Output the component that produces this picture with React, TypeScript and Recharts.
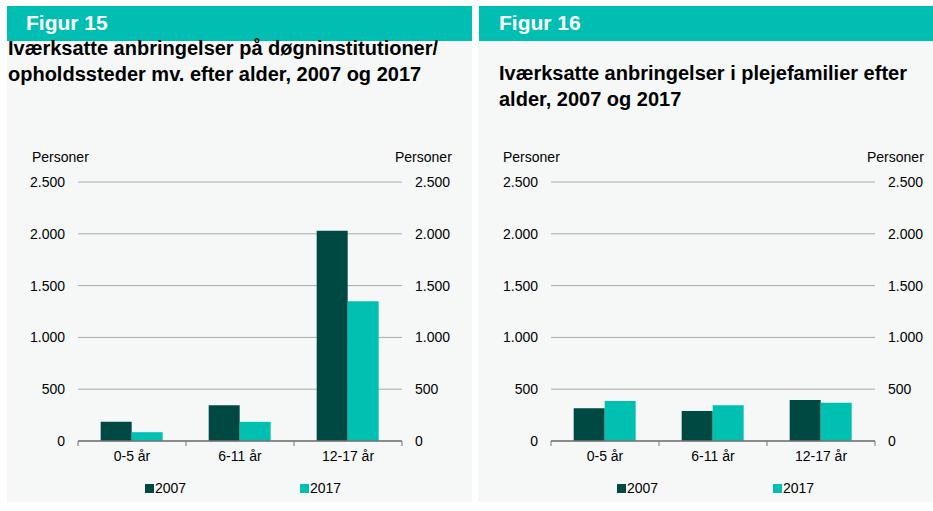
import React from 'react';
import { ComposedChart, Bar, Line, XAxis, YAxis, CartesianGrid } from 'recharts';

const categories = ['0-5 år', '6-11 år', '12-17 år'];
const fig15Values2007 = [185, 345, 2030];
const fig15Values2017 = [85, 185, 1350];
const fig16Values2007 = [315, 290, 395];
const fig16Values2017 = [385, 345, 370];
const seriesNames = ['2007', '2017'];
const yTicks = [0, 500, 1000, 1500, 2000, 2500];

const FONT = '"Liberation Sans", Arial, sans-serif';
const TEAL = '#00BFB2';
const DARK = '#004842';
const LIGHT = '#00C1B1';
const PANEL_BG = '#F6F8F8';
const AXIS = '#757575';
const GRID = '#a8a8a8';
const TICK_MARGIN = 10;

const fmt = (v: number) => String(v).replace(/\B(?=(\d{3})+(?!\d))/g, '.');

function buildData(a: number[], b: number[]) {
  return categories.map((c, i) => ({ cat: c, y2007: a[i], y2017: b[i] }));
}

function CatTick(props: any) {
  const { x, y, payload, index, visibleTicksCount } = props;
  const off = payload && typeof payload.offset === 'number' ? payload.offset : 0;
  const axisY = y - TICK_MARGIN;
  const last = index === (visibleTicksCount ?? 3) - 1;
  return (
    <g>
      <line x1={x - off} x2={x - off} y1={axisY} y2={axisY + 5} stroke={AXIS} strokeWidth={1} />
      {last && <line x1={x + off} x2={x + off} y1={axisY} y2={axisY + 5} stroke={AXIS} strokeWidth={1} />}
      <text x={x} y={y} dy="0.71em" textAnchor="middle" fill="#000" fontSize={14} fontFamily={FONT}>
        {payload.value}
      </text>
    </g>
  );
}

type ChartProps = {
  data: { cat: string; y2007: number; y2017: number }[];
  width: number;
  leftW: number;
  rightW: number;
};

function Chart({ data, width, leftW, rightW }: ChartProps) {
  return (
    <ComposedChart
      width={width}
      height={370}
      data={data}
      margin={{ top: 42, right: 0, bottom: 41, left: 0 }}
      barCategoryGap="21%"
      barGap={0}
      style={{ fontFamily: FONT }}
    >
      <CartesianGrid vertical={false} stroke={GRID} strokeWidth={1} yAxisId="left" xAxisId="cat" />
      <XAxis
        xAxisId="cat"
        dataKey="cat"
        height={28}
        axisLine={{ stroke: AXIS, strokeWidth: 1.3 }}
        tickLine={false}
        tickSize={0}
        tickMargin={TICK_MARGIN}
        tick={<CatTick />}
        interval={0}
      />
      <YAxis
        yAxisId="left"
        orientation="left"
        width={leftW}
        domain={[0, 2500]}
        ticks={yTicks}
        interval={0}
        axisLine={false}
        tickLine={false}
        tickSize={0}
        tickMargin={13}
        tickFormatter={fmt}
        tick={{ fill: '#000', fontSize: 14, fontFamily: FONT }}
      />
      <YAxis
        yAxisId="right"
        orientation="right"
        width={rightW}
        domain={[0, 2500]}
        ticks={yTicks}
        interval={0}
        axisLine={false}
        tickLine={false}
        tickSize={0}
        tickMargin={13}
        tickFormatter={fmt}
        tick={{ fill: '#000', fontSize: 14, fontFamily: FONT, textAnchor: 'start' }}
      />
      <Bar xAxisId="cat" yAxisId="left" dataKey="y2007" name={seriesNames[0]} fill={DARK} isAnimationActive={false} />
      <Bar xAxisId="cat" yAxisId="left" dataKey="y2017" name={seriesNames[1]} fill={LIGHT} isAnimationActive={false} />
      <Line
        xAxisId="cat"
        yAxisId="right"
        dataKey="y2017"
        stroke="none"
        dot={false}
        activeDot={false}
        legendType="none"
        isAnimationActive={false}
      />
    </ComposedChart>
  );
}

const txt = (extra: React.CSSProperties): React.CSSProperties => ({
  position: 'absolute',
  fontFamily: FONT,
  whiteSpace: 'nowrap',
  ...extra,
});

function Legend({ left, gap }: { left: number; gap: number }) {
  return (
    <>
      {seriesNames.map((n, i) => (
        <div key={n} style={txt({ left: left + i * gap, top: 480, fontSize: 14, lineHeight: '16px', color: '#000', display: 'flex', alignItems: 'center' })}>
          <span style={{ display: 'inline-block', width: 9, height: 9, background: i === 0 ? DARK : LIGHT, marginRight: 1 }} />
          {n}
        </div>
      ))}
    </>
  );
}

export default function App() {
  const d15 = buildData(fig15Values2007, fig15Values2017);
  const d16 = buildData(fig16Values2007, fig16Values2017);
  return (
    <div style={{ position: 'absolute', left: 0, top: 0, width: 933, height: 511, background: '#fff', overflow: 'hidden' }}>
      {/* Panel 1 */}
      <div style={{ position: 'absolute', left: 7, top: 6, width: 465, height: 35, background: TEAL }} />
      <div style={{ position: 'absolute', left: 7, top: 41, width: 465, height: 461, background: PANEL_BG }} />
      <div style={txt({ left: 26, top: 10, fontSize: 21, fontWeight: 'bold', color: '#fff', lineHeight: '26px' })}>Figur 15</div>
      <div style={txt({ left: 8, top: 35, fontSize: 20, fontWeight: 'bold', color: '#000', lineHeight: '26px' })}>
        Iværksatte anbringelser på døgninstitutioner/
        <br />
        opholdssteder mv. efter alder, 2007 og 2017
      </div>
      <div style={txt({ left: 32, top: 149, fontSize: 14, color: '#000', lineHeight: '16px' })}>Personer</div>
      <div style={txt({ left: 395, top: 149, fontSize: 14, color: '#000', lineHeight: '16px' })}>Personer</div>
      <div style={{ position: 'absolute', left: 0, top: 140 }}>
        <Chart data={d15} width={470} leftW={78} rightW={68} />
      </div>
      <Legend left={145} gap={155} />

      {/* Panel 2 */}
      <div style={{ position: 'absolute', left: 479, top: 6, width: 454, height: 35, background: TEAL }} />
      <div style={{ position: 'absolute', left: 478, top: 41, width: 455, height: 461, background: PANEL_BG }} />
      <div style={txt({ left: 499, top: 10, fontSize: 21, fontWeight: 'bold', color: '#fff', lineHeight: '26px' })}>Figur 16</div>
      <div style={txt({ left: 499, top: 60, fontSize: 20, fontWeight: 'bold', color: '#000', lineHeight: '26px' })}>
        Iværksatte anbringelser i plejefamilier efter
        <br />
        alder, 2007 og 2017
      </div>
      <div style={txt({ left: 503, top: 149, fontSize: 14, color: '#000', lineHeight: '16px' })}>Personer</div>
      <div style={txt({ left: 867, top: 149, fontSize: 14, color: '#000', lineHeight: '16px' })}>Personer</div>
      <div style={{ position: 'absolute', left: 470, top: 140 }}>
        <Chart data={d16} width={463} leftW={81} rightW={58} />
      </div>
      <Legend left={617} gap={156} />
    </div>
  );
}
